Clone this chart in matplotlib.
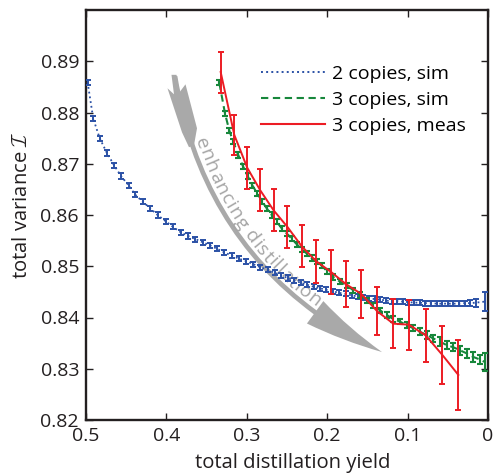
import numpy as np
import matplotlib
matplotlib.use('Agg')
import matplotlib.pyplot as plt
from matplotlib.patches import FancyArrowPatch, Polygon
from matplotlib.lines import Line2D
from matplotlib.font_manager import FontProperties

plt.rcParams['font.family'] = ['Open Sans', 'DejaVu Sans']
plt.rcParams['mathtext.fontset'] = 'cm'

# ---------------- data ----------------
blue_x = [0.498, 0.491, 0.483, 0.474, 0.465, 0.4565, 0.447, 0.439, 0.4295, 0.420,
          0.411, 0.401, 0.392, 0.382, 0.373, 0.364, 0.355, 0.346, 0.337, 0.328,
          0.319, 0.310, 0.301, 0.292, 0.283, 0.274, 0.265, 0.257, 0.249, 0.241,
          0.233, 0.225, 0.217, 0.209, 0.201, 0.193, 0.185, 0.177, 0.169, 0.162,
          0.155, 0.148, 0.141, 0.134, 0.127, 0.120, 0.113, 0.106, 0.099, 0.092,
          0.085, 0.078, 0.071, 0.064, 0.057, 0.050, 0.043, 0.036, 0.029, 0.022,
          0.015, 0.004]
blue_y = [0.8859, 0.8788, 0.8750, 0.8721, 0.8697, 0.8676, 0.8658, 0.8640, 0.8626, 0.8613,
          0.8600, 0.8588, 0.8577, 0.8566, 0.8559, 0.8553, 0.8547, 0.8541, 0.8534, 0.8527,
          0.8521, 0.8515, 0.8510, 0.8504, 0.8498, 0.8493, 0.8487, 0.8482, 0.8477, 0.8472,
          0.8468, 0.8464, 0.8460, 0.8457, 0.8454, 0.8451, 0.8448, 0.8446, 0.8443, 0.8441,
          0.8439, 0.8437, 0.8436, 0.8435, 0.8433, 0.8432, 0.8432, 0.8431, 0.8430, 0.8429,
          0.8429, 0.8428, 0.8428, 0.8427, 0.8427, 0.8427, 0.8427, 0.8427, 0.8428, 0.8428,
          0.8429, 0.8431]
blue_err = [0.0005] * 58 + [0.0005, 0.0006, 0.0008, 0.0019]

green_x = [0.3342, 0.3271, 0.3218, 0.3168, 0.3106, 0.3044, 0.2989, 0.2932, 0.2869, 0.2807,
           0.2752, 0.2690, 0.2628, 0.2566, 0.2504, 0.2442, 0.2379, 0.2317, 0.2255, 0.2193,
           0.2131, 0.2069, 0.1997, 0.1924, 0.1841, 0.1757, 0.1675, 0.1592, 0.1509, 0.1427,
           0.1343, 0.1260, 0.1178, 0.1095, 0.1011, 0.0929, 0.0846, 0.0762, 0.0680, 0.0597,
           0.0514, 0.0432, 0.0348, 0.0265, 0.0183, 0.0100, 0.0037]
green_y = [0.8858, 0.8798, 0.8765, 0.8743, 0.8717, 0.8694, 0.8676, 0.8658, 0.8642, 0.8626,
           0.8613, 0.8600, 0.8587, 0.8574, 0.8564, 0.8554, 0.8543, 0.8533, 0.8525, 0.8516,
           0.8509, 0.8501, 0.8490, 0.8479, 0.8470, 0.8463, 0.8453, 0.8444, 0.8434, 0.8424,
           0.8414, 0.8405, 0.8397, 0.8392, 0.8385, 0.8379, 0.8372, 0.8366, 0.8359, 0.8353,
           0.8346, 0.8342, 0.8336, 0.8330, 0.8323, 0.8318, 0.8313]
green_err = [0.0005] * 34 + [0.0006, 0.0006, 0.0007, 0.0007, 0.0007, 0.0008,
                             0.0008, 0.0008, 0.0009, 0.0009, 0.0009, 0.0009, 0.0018]

red_x = [0.3325, 0.3155, 0.2994, 0.2832, 0.2666, 0.2496, 0.2317, 0.2139, 0.1953, 0.1766,
         0.1576, 0.1377, 0.1178, 0.0983, 0.0775, 0.0568, 0.0369]
red_y = [0.8879, 0.8756, 0.8692, 0.8648, 0.8609, 0.8577, 0.8539, 0.8510, 0.8489, 0.8465,
         0.8446, 0.8412, 0.8388, 0.8386, 0.8365, 0.8327, 0.8288]
red_err = [0.0040, 0.0039, 0.0041, 0.0041, 0.0041, 0.0041, 0.0041, 0.0042, 0.0043, 0.0045,
           0.0046, 0.0047, 0.0048, 0.0049, 0.0052, 0.0056, 0.0068]

series_labels = ['2 copies, sim', '3 copies, sim', '3 copies, meas']
x_ticks = [0.5, 0.4, 0.3, 0.2, 0.1, 0.0]
x_ticklabels = ['0.5', '0.4', '0.3', '0.2', '0.1', '0']
y_ticks = [0.82, 0.83, 0.84, 0.85, 0.86, 0.87, 0.88, 0.89]
y_ticklabels = ['0.82', '0.83', '0.84', '0.85', '0.86', '0.87', '0.88', '0.89']

# annotation arrow (data coordinates)
arrow_start = (0.3893, 0.88706)
arrow_end = (0.13184, 0.83326)
arrow_rad = 0.26
tail_shape = [(0.39366, 0.88735), (0.38744, 0.88735), (0.38371, 0.88394), (0.37624, 0.88550),
              (0.36194, 0.87692), (0.36567, 0.87361), (0.37189, 0.87322), (0.38060, 0.87614),
              (0.39863, 0.88472), (0.39055, 0.88355)]
arrow_text_words = ['enhancing', 'distillation']

# ---------------- style ----------------
BLUE = '#2b51a6'
GREEN = '#17873b'
RED = '#ec1c24'
GRAY = '#a9a9a9'
TGRAY = '#a5a5a5'
INK = '#231f20'
FS = 14
LFS = 14.6

fig = plt.figure(figsize=(4.93, 4.75), dpi=100)
ax = fig.add_axes([86 / 493, 55 / 475, 402 / 493, 410 / 475])
ax.set_xlim(0.5, 0.0)
ax.set_ylim(0.82, 0.90)

# gray arrow
arr = FancyArrowPatch(arrow_start, arrow_end, connectionstyle=f'arc3,rad={arrow_rad}',
                      arrowstyle='simple,head_length=56,head_width=20,tail_width=3.4',
                      mutation_scale=1, shrinkA=0, shrinkB=0, color=GRAY, lw=0, zorder=1)
ax.add_patch(arr)
ax.add_patch(Polygon(tail_shape, closed=True, color=GRAY, lw=0, zorder=1))

# series
ax.errorbar(blue_x, blue_y, yerr=blue_err, fmt=':', color=BLUE, lw=1.3,
            elinewidth=1.4, capsize=2.2, capthick=1.4, zorder=3)
ax.errorbar(green_x, green_y, yerr=green_err, fmt='--', color=GREEN, lw=1.5,
            elinewidth=1.5, capsize=2.2, capthick=1.5, zorder=4, dashes=(3.5, 2.2))
ax.errorbar(red_x, red_y, yerr=red_err, fmt='-', color=RED, lw=1.4,
            elinewidth=1.4, capsize=2.0, capthick=1.4, zorder=5)

# axes style
ax.set_xticks(x_ticks)
ax.set_xticklabels(x_ticklabels)
ax.set_yticks(y_ticks)
ax.set_yticklabels(y_ticklabels)
ax.tick_params(direction='in', top=True, right=True, length=5, width=1.0,
               labelsize=FS, colors=INK, pad=5)
for sp in ax.spines.values():
    sp.set_linewidth(1.7)
    sp.set_color(INK)
ax.set_xlabel('total distillation yield', fontsize=LFS, color=INK, labelpad=6)
ax.set_ylabel(r'total variance $\mathcal{I}$', fontsize=LFS, color=INK, labelpad=6)
ax.xaxis.label.set_x(0.515)
ax.yaxis.label.set_y(0.525)

handles = [Line2D([], [], color=BLUE, ls=':', lw=1.4),
           Line2D([], [], color=GREEN, lw=1.5, dashes=(3.5, 2.2)),
           Line2D([], [], color=RED, lw=1.5)]
ax.legend(handles, series_labels, loc='upper left', bbox_to_anchor=(0.435, 0.866),
          frameon=False, fontsize=FS, handlelength=3.3, handletextpad=0.35,
          labelspacing=0.42, borderpad=0, borderaxespad=0)

# text along the arrow
fig.canvas.draw()
r = fig.canvas.get_renderer()
fp = FontProperties(family=['Open Sans', 'DejaVu Sans'], size=14)
p0 = ax.transData.transform(arrow_start)
p2 = ax.transData.transform(arrow_end)
ddx, ddy = p2 - p0
mid = (p0 + p2) / 2
c = np.array([mid[0] + arrow_rad * ddy, mid[1] - arrow_rad * ddx])
ts = np.linspace(0, 1, 4001)
pts = ((1 - ts) ** 2)[:, None] * p0 + (2 * (1 - ts) * ts)[:, None] * c + (ts ** 2)[:, None] * p2
der = (2 * (1 - ts))[:, None] * (c - p0) + (2 * ts)[:, None] * (p2 - c)
tan = der / np.hypot(der[:, 0], der[:, 1])[:, None]
nrm = np.column_stack([-tan[:, 1], tan[:, 0]])
off = 4.5
opts = pts + nrm * off
s = np.concatenate([[0], np.cumsum(np.hypot(*np.diff(opts, axis=0).T))])
H = fig.bbox.height
t_start = np.array([196.0, H - 140.0])
t_end = np.array([322.0, H - 300.0])
s_start = s[np.argmin(np.hypot(*(opts - t_start).T))]
s_end = s[np.argmin(np.hypot(*(opts - t_end).T))]


def width(txt):
    if not txt:
        return 0.0
    return r.get_text_width_height_descent(txt, fp, ismath=False)[0]


space = width('a a') - width('aa')
nat_total = sum(width(w) for w in arrow_text_words) + space * (len(arrow_text_words) - 1)
nchars = sum(len(w) for w in arrow_text_words) + len(arrow_text_words) - 1
track = max(0.0, (s_end - s_start - nat_total) / (nchars - 1))

pos = s_start
inv = ax.transData.inverted()
for wi, word in enumerate(arrow_text_words):
    for i, ch in enumerate(word):
        left = width(word[:i]) + track * i
        cw = width(word[:i + 1]) - width(word[:i])
        sc = pos + left + cw / 2
        k = min(np.searchsorted(s, sc), len(s) - 1)
        pt = opts[k]
        ang = np.degrees(np.arctan2(tan[k, 1], tan[k, 0]))
        dpt = inv.transform(pt)
        ax.text(dpt[0], dpt[1], ch, fontproperties=fp, color=TGRAY, rotation=ang,
                rotation_mode='anchor', ha='center', va='baseline', zorder=2)
    pos += width(word) + track * len(word) + space + track

fig.savefig('out.png', dpi=100)
